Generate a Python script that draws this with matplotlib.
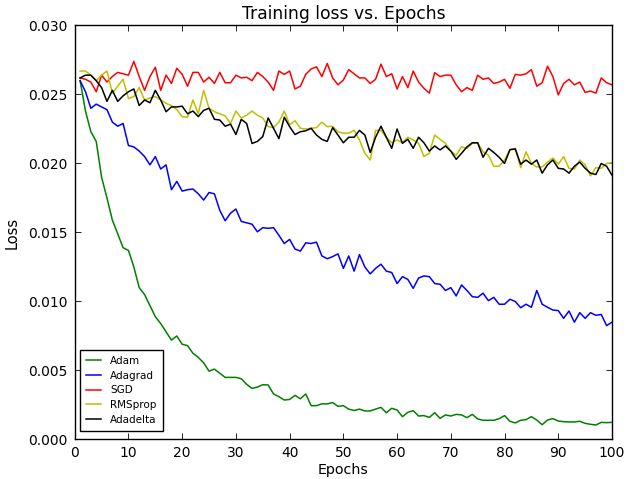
import matplotlib
matplotlib.use("Agg")
import matplotlib.pyplot as plt
import numpy as np

epochs = list(range(1, 101))

adam = [26.0, 23.8, 22.3, 21.6, 19.0, 17.5, 15.9, 14.9, 13.9, 13.7,
        12.5, 11.0, 10.5, 9.7, 8.9, 8.4, 7.8, 7.2, 7.5, 6.9,
        6.8, 6.25, 5.95, 5.55, 4.95, 5.1, 4.8, 4.5, 4.5, 4.5,
        4.4, 4.0, 3.7, 3.8, 3.97, 3.95, 3.3, 3.1, 2.86, 2.9,
        3.2, 2.95, 3.3, 2.45, 2.45, 2.58, 2.58, 2.68, 2.4, 2.45,
        2.2, 2.1, 2.2, 2.07, 2.07, 2.2, 2.33, 1.94, 2.26, 2.14,
        1.65, 1.97, 2.09, 1.70, 1.73, 1.6, 1.94, 1.53, 1.78, 1.70,
        1.82, 1.78, 1.58, 1.82, 1.49, 1.39, 1.39, 1.39, 1.51, 1.73,
        1.32, 1.2, 1.39, 1.44, 1.65, 1.41, 1.07, 1.41, 1.51, 1.34,
        1.29, 1.27, 1.27, 1.32, 1.17, 1.1, 1.05, 1.24, 1.22, 1.24]

adagrad = [26.0, 25.2, 24.0, 24.3, 24.1, 23.9, 23.0, 22.7, 22.9, 21.3,
           21.2, 20.9, 20.5, 19.9, 20.5, 19.6, 19.9, 18.1, 18.7, 18.0,
           18.1, 18.15, 17.8, 17.35, 17.9, 17.8, 16.6, 15.85, 16.4, 16.7,
           15.8, 15.7, 15.6, 15.05, 15.35, 15.3, 15.35, 14.8, 14.2, 14.5,
           13.8, 13.65, 14.25, 14.2, 14.3, 13.3, 13.1, 13.25, 13.45, 12.4,
           13.3, 12.2, 13.4, 12.5, 12.0, 12.4, 12.7, 12.2, 12.1, 11.3,
           11.8, 11.6, 10.95, 11.7, 11.85, 11.8, 11.3, 11.25, 10.8, 11.0,
           10.4, 11.2, 10.8, 10.35, 10.3, 10.6, 10.06, 10.3, 9.8, 9.8,
           10.16, 10.0, 9.55, 9.8, 9.58, 10.8, 9.8, 9.58, 9.38, 9.34,
           8.78, 9.31, 8.5, 9.19, 8.78, 9.19, 9.0, 9.06, 8.25, 8.5]

sgd = [26.2, 26.1, 25.9, 25.2, 26.4, 25.9, 26.3, 26.6, 26.5, 26.4,
       27.4, 26.3, 25.3, 26.3, 26.97, 25.3, 26.4, 25.8, 26.9, 26.46,
       25.6, 26.6, 26.6, 25.9, 26.25, 25.8, 26.6, 25.85, 25.85, 26.4,
       26.2, 26.25, 26.0, 26.6, 26.3, 25.9, 25.3, 26.7, 26.46, 26.7,
       25.4, 25.6, 26.46, 26.85, 27.0, 26.3, 27.25, 26.2, 25.7, 26.05,
       26.8, 26.5, 26.2, 26.2, 25.8, 26.1, 27.2, 26.3, 26.5, 25.4,
       26.3, 25.5, 26.7, 25.9, 25.45, 25.1, 26.58, 26.3, 26.4, 26.4,
       25.7, 25.2, 25.5, 25.3, 26.4, 26.1, 26.2, 25.8, 25.9, 26.1,
       25.45, 26.46, 26.4, 26.5, 26.8, 25.6, 25.85, 27.05, 26.3, 24.97,
       25.8, 26.1, 25.7, 25.9, 25.15, 25.25, 25.1, 26.2, 25.85, 25.7]

rmsprop = [26.7, 26.7, 26.4, 26.0, 26.4, 26.7, 25.1, 25.6, 26.1, 24.7,
           24.85, 25.5, 24.6, 24.75, 24.85, 24.6, 24.35, 24.2, 23.9, 23.4,
           23.35, 24.6, 23.6, 25.3, 24.0, 23.75, 23.6, 23.45, 22.9, 23.8,
           23.3, 23.5, 23.8, 23.5, 23.3, 22.67, 22.6, 23.0, 23.8, 22.8,
           23.1, 22.55, 22.5, 22.55, 22.6, 23.0, 22.67, 22.7, 22.3, 22.2,
           22.2, 22.4, 21.7, 20.74, 20.25, 22.4, 22.4, 21.9, 21.5, 21.7,
           21.5, 21.9, 21.7, 21.46, 20.5, 20.74, 22.06, 21.75, 21.46, 20.9,
           20.6, 21.2, 21.1, 21.46, 21.5, 20.85, 20.6, 19.8, 19.8, 20.25,
           21.0, 21.1, 19.7, 20.85, 20.0, 19.75, 19.75, 20.1, 20.4, 19.95,
           20.5, 19.65, 19.6, 20.25, 19.9, 19.1, 19.7, 19.65, 20.0, 20.05]

adadelta = [26.2, 26.4, 26.4, 26.0, 25.5, 24.5, 25.3, 24.5, 24.9, 25.2,
            25.4, 24.2, 24.6, 24.4, 25.3, 24.6, 23.75, 24.1, 24.1, 24.15,
            23.6, 23.8, 23.4, 23.85, 24.0, 23.2, 23.15, 22.7, 22.85, 22.1,
            23.2, 22.9, 21.45, 21.6, 21.95, 23.3, 22.55, 21.8, 23.35, 22.67,
            22.1, 22.3, 22.37, 22.55, 22.06, 21.75, 21.6, 22.6, 22.06, 21.5,
            21.9, 21.9, 22.4, 22.06, 20.8, 21.9, 22.7, 21.9, 21.1, 22.5,
            21.46, 21.75, 21.1, 21.9, 21.5, 20.9, 21.27, 20.98, 21.27, 20.9,
            20.3, 20.74, 21.2, 21.5, 21.5, 20.45, 21.1, 20.8, 20.45, 20.0,
            21.0, 21.05, 19.95, 20.25, 19.95, 20.25, 19.3, 19.9, 20.25, 19.65,
            19.6, 19.3, 19.8, 20.1, 19.65, 19.3, 19.2, 20.0, 19.8, 19.15]

series_names = ["Adam", "Adagrad", "SGD", "RMSprop", "Adadelta"]
series_values = [adam, adagrad, sgd, rmsprop, adadelta]
series_colors = [(0, 0.5, 0), (0, 0, 1), (1, 0, 0), (0.75, 0.75, 0), (0, 0, 0)]

plt.rcParams['font.family'] = ['DejaVu Sans']

fig = plt.figure(figsize=(6.28, 4.79), dpi=100)
ax = fig.add_axes([0.119, 0.0825, 0.8555, 0.8643])

x = np.array(epochs)
for name, vals, col in zip(series_names, series_values, series_colors):
    ax.plot(x, np.array(vals) * 1e-3, color=col, lw=1.1, label=name)

ax.set_xlim(0, 100)
ax.set_ylim(0, 0.030)
ax.set_xticks(np.arange(0, 101, 10))
ax.set_yticks(np.arange(0, 0.0301, 0.005))
ax.yaxis.set_major_formatter(matplotlib.ticker.FormatStrFormatter('%.3f'))
ax.tick_params(direction='in', top=True, right=True, length=4.5, width=0.6,
               labelsize=10, pad=5)
for s in ax.spines.values():
    s.set_linewidth(1.0)

ax.set_title("Training loss vs. Epochs", fontsize=12.3, pad=5)
ax.set_xlabel("Epochs", fontsize=10.3, labelpad=1.5)
ax.set_ylabel("Loss", fontsize=10.5, labelpad=6)

leg = ax.legend(loc='lower left', bbox_to_anchor=(0.010, 0.0205), borderaxespad=0,
                fontsize=7.5, fancybox=False, framealpha=1, edgecolor='black',
                handlelength=1.4, handletextpad=0.9, labelspacing=0.45, borderpad=0.6)
leg.get_frame().set_linewidth(1.0)

fig.savefig("out.png", dpi=100)
